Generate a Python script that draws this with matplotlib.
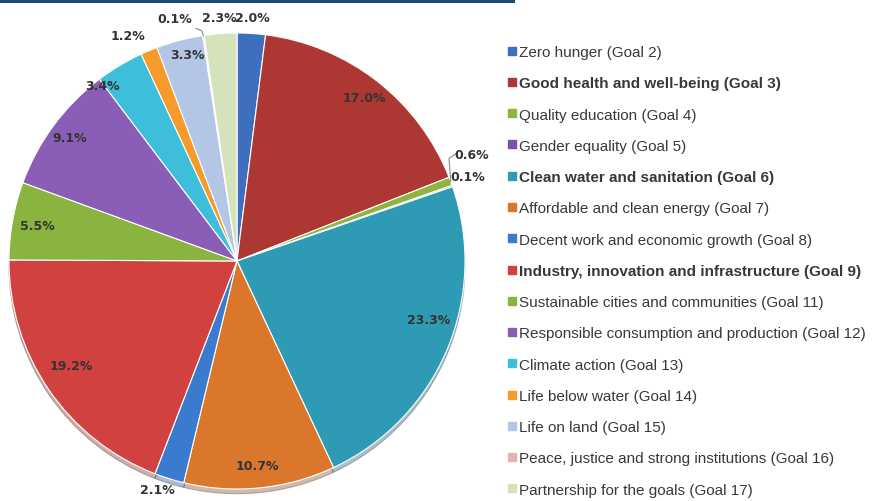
import matplotlib
matplotlib.use("Agg")
import matplotlib.pyplot as plt
import numpy as np
from matplotlib.lines import Line2D
from matplotlib.patches import Rectangle

categories = [
    "Zero hunger (Goal 2)",
    "Good health and well-being (Goal 3)",
    "Quality education (Goal 4)",
    "Gender equality (Goal 5)",
    "Clean water and sanitation (Goal 6)",
    "Affordable and clean energy (Goal 7)",
    "Decent work and economic growth (Goal 8)",
    "Industry, innovation and infrastructure (Goal 9)",
    "Sustainable cities and communities (Goal 11)",
    "Responsible consumption and production (Goal 12)",
    "Climate action (Goal 13)",
    "Life below water (Goal 14)",
    "Life on land (Goal 15)",
    "Peace, justice and strong institutions (Goal 16)",
    "Partnership for the goals (Goal 17)",
]
values = [2.0, 17.0, 0.6, 0.1, 23.3, 10.7, 2.1, 19.2, 5.5, 9.1, 3.4, 1.2, 3.3, 0.1, 2.3]
bold_goals = ["Good health and well-being (Goal 3)",
              "Clean water and sanitation (Goal 6)",
              "Industry, innovation and infrastructure (Goal 9)"]

colors = ["#3d6fbe", "#ad3733", "#8cb43e", "#7a55a3", "#2e9ab4", "#da772a",
          "#3b7bcf", "#d0413f", "#8ab43f", "#8a5db6", "#3dbfdc", "#f59a2b",
          "#b3c6e6", "#e4b4b3", "#d5e3bb"]

# label radius factor and angle offset (deg) for each slice label
label_r = [1.07, 0.91, 1.13, 1.08, 0.88, 0.90, 1.06, 0.86, 0.89, 0.91, 0.97, 1.10, 0.93, 1.10, 1.07]
label_da = [0, 0, 4, 1, 6, 0, -2, -2, 0, 0, 6.5, 3, -1, 6, 0]

W, H = 876, 502
fig = plt.figure(figsize=(W / 100, H / 100), dpi=100)
fig.patch.set_facecolor("white")

cx, cy, R = 237, 262, 228
ax = fig.add_axes([(cx - R) / W, (H - cy - R) / H, 2 * R / W, 2 * R / H])

wedges, _ = ax.pie(values, colors=colors, startangle=90, counterclock=False,
                   radius=1.0, wedgeprops=dict(edgecolor="white", linewidth=0.8),
                   shadow=dict(ox=0.0, oy=-0.015, shade=0.5, alpha=0.35))
ax.set_xlim(-1, 1)
ax.set_ylim(-1, 1)
ax.set_aspect("equal")
ax.axis("off")

for i, (w, v) in enumerate(zip(wedges, values)):
    mid = (w.theta1 + w.theta2) / 2.0 + label_da[i]
    r = label_r[i]
    x = r * np.cos(np.radians(mid))
    y = r * np.sin(np.radians(mid))
    ax.text(x, y, f"{v:.1f}%", ha="center", va="center", fontsize=9,
            fontweight="bold", color="#333333", family="DejaVu Sans", clip_on=False)

# leader lines for tiny slices
def leader(i, pts):
    w = wedges[i]
    mid = np.radians((w.theta1 + w.theta2) / 2.0)
    xs = [np.cos(mid)] + [p[0] for p in pts]
    ys = [np.sin(mid)] + [p[1] for p in pts]
    ax.plot(xs, ys, color="#888888", lw=0.8, clip_on=False)

leader(2, [(0.93, 0.45), (0.96, 0.47)])
leader(13, [(-0.155, 1.01), (-0.18, 1.02)])

# legend
handles = [Line2D([0], [0], marker="s", linestyle="none", markersize=5.5,
                  markerfacecolor=c, markeredgecolor=c) for c in colors]
leg = fig.legend(handles, categories, loc="upper left",
                 bbox_to_anchor=(508 / W, 1 - 46 / H), frameon=False,
                 prop=dict(family="Liberation Sans", size=11),
                 labelspacing=1.13, handlelength=0.5, handletextpad=0.25,
                 borderaxespad=0, borderpad=0)
for t in leg.get_texts():
    t.set_color("#383838")
    if t.get_text() in bold_goals:
        t.set_fontweight("bold")

# top navy rule
fig.add_artist(Rectangle((0, 1 - 4 / H), 515 / W, 4 / H, transform=fig.transFigure,
                         color="#1a4a78", lw=0))

fig.savefig("out.png", dpi=100)
